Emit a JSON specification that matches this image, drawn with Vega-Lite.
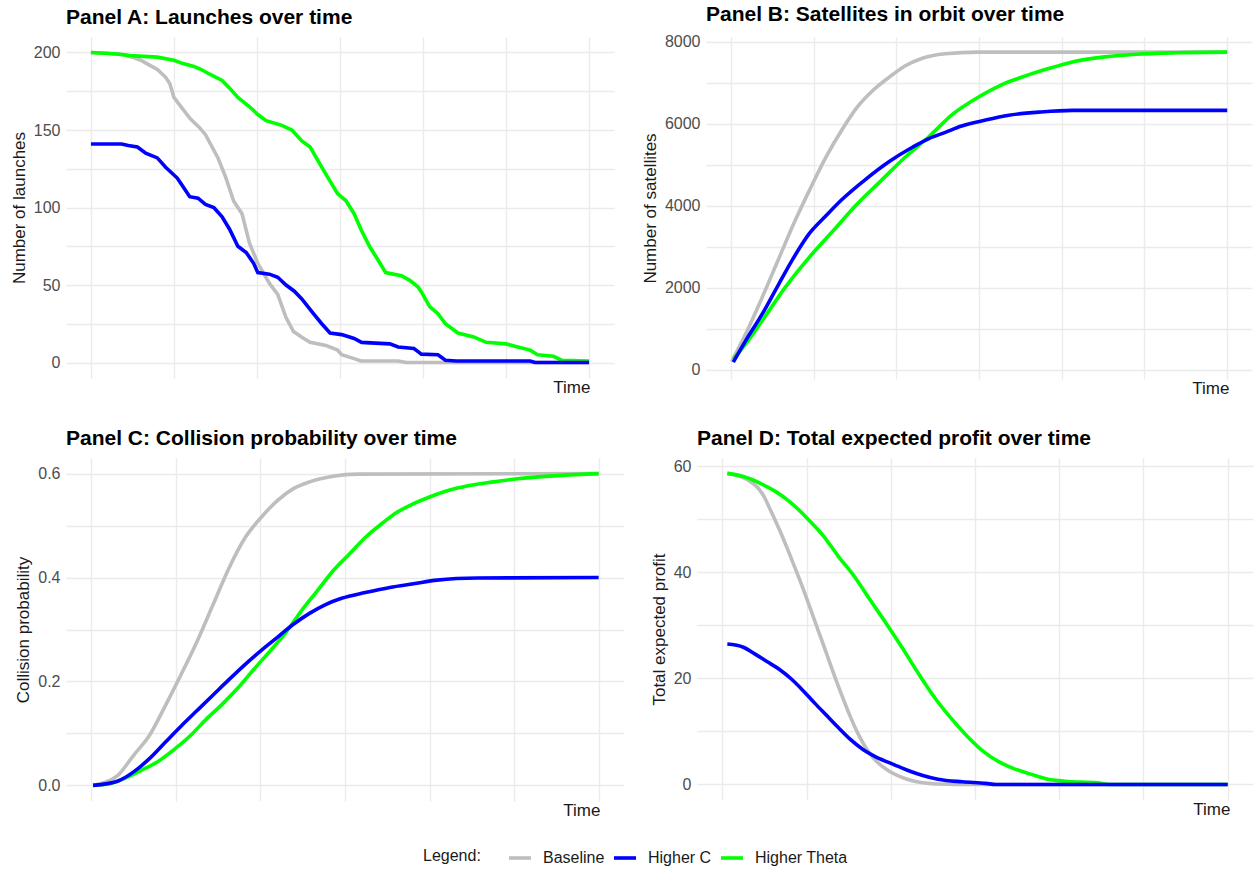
{
  "$schema": "https://vega.github.io/schema/vega-lite/v6.json",
  "background": "white",
  "padding": {"left": 10, "top": 3, "right": 1, "bottom": 2},
  "config": {
    "font": "Liberation Sans",
    "view": {"stroke": null},
    "axis": {"domain": false, "ticks": false, "gridColor": "#EBEBEB", "gridWidth": 1.4, "labelColor": "#4D4D4D", "labelFontSize": 16, "titleFontSize": 17, "titleFontWeight": "normal", "titleColor": "#1A1A1A", "labelPadding": 6, "titlePadding": 5},
    "title": {"fontSize": 21, "anchor": "start", "frame": "group", "color": "#000000", "fontWeight": "bold", "offset": 9},
    "line": {"strokeWidth": 3.6, "strokeCap": "butt"}
  },
  "datasets": {
    "launches": [
      {"time": 0, "scenario": "Baseline", "value": 200},
      {"time": 2, "scenario": "Baseline", "value": 199.5},
      {"time": 4, "scenario": "Baseline", "value": 198.5},
      {"time": 5, "scenario": "Baseline", "value": 197},
      {"time": 6, "scenario": "Baseline", "value": 195},
      {"time": 7, "scenario": "Baseline", "value": 192},
      {"time": 8, "scenario": "Baseline", "value": 189},
      {"time": 9, "scenario": "Baseline", "value": 184},
      {"time": 9.5, "scenario": "Baseline", "value": 180},
      {"time": 10, "scenario": "Baseline", "value": 171},
      {"time": 11, "scenario": "Baseline", "value": 164},
      {"time": 12, "scenario": "Baseline", "value": 157},
      {"time": 13, "scenario": "Baseline", "value": 152},
      {"time": 13.8, "scenario": "Baseline", "value": 147},
      {"time": 14.5, "scenario": "Baseline", "value": 140},
      {"time": 15.3, "scenario": "Baseline", "value": 132},
      {"time": 16.2, "scenario": "Baseline", "value": 120},
      {"time": 17.2, "scenario": "Baseline", "value": 104},
      {"time": 18.2, "scenario": "Baseline", "value": 96},
      {"time": 19.1, "scenario": "Baseline", "value": 77},
      {"time": 20.1, "scenario": "Baseline", "value": 64},
      {"time": 21.5, "scenario": "Baseline", "value": 51},
      {"time": 22.5, "scenario": "Baseline", "value": 44},
      {"time": 23.5, "scenario": "Baseline", "value": 29},
      {"time": 24.4, "scenario": "Baseline", "value": 20},
      {"time": 25.5, "scenario": "Baseline", "value": 16},
      {"time": 26.4, "scenario": "Baseline", "value": 13},
      {"time": 28.3, "scenario": "Baseline", "value": 11},
      {"time": 29.7, "scenario": "Baseline", "value": 8},
      {"time": 30.2, "scenario": "Baseline", "value": 5},
      {"time": 31.7, "scenario": "Baseline", "value": 2.5},
      {"time": 32.5, "scenario": "Baseline", "value": 1},
      {"time": 37, "scenario": "Baseline", "value": 1},
      {"time": 38, "scenario": "Baseline", "value": 0},
      {"time": 60, "scenario": "Baseline", "value": 0},
      {"time": 0, "scenario": "Higher Theta", "value": 200},
      {"time": 3.2, "scenario": "Higher Theta", "value": 199},
      {"time": 4.7, "scenario": "Higher Theta", "value": 198},
      {"time": 8, "scenario": "Higher Theta", "value": 197},
      {"time": 10, "scenario": "Higher Theta", "value": 195},
      {"time": 11, "scenario": "Higher Theta", "value": 193},
      {"time": 12.4, "scenario": "Higher Theta", "value": 191},
      {"time": 13.3, "scenario": "Higher Theta", "value": 189},
      {"time": 14.3, "scenario": "Higher Theta", "value": 186},
      {"time": 15.8, "scenario": "Higher Theta", "value": 182},
      {"time": 16.7, "scenario": "Higher Theta", "value": 177},
      {"time": 17.7, "scenario": "Higher Theta", "value": 171},
      {"time": 19.1, "scenario": "Higher Theta", "value": 165},
      {"time": 20.1, "scenario": "Higher Theta", "value": 160},
      {"time": 21.1, "scenario": "Higher Theta", "value": 156},
      {"time": 23, "scenario": "Higher Theta", "value": 153},
      {"time": 24.2, "scenario": "Higher Theta", "value": 150},
      {"time": 25.4, "scenario": "Higher Theta", "value": 143},
      {"time": 26.4, "scenario": "Higher Theta", "value": 139},
      {"time": 27.8, "scenario": "Higher Theta", "value": 126},
      {"time": 28.8, "scenario": "Higher Theta", "value": 117},
      {"time": 29.7, "scenario": "Higher Theta", "value": 109},
      {"time": 30.7, "scenario": "Higher Theta", "value": 104.5},
      {"time": 31.7, "scenario": "Higher Theta", "value": 96},
      {"time": 32.6, "scenario": "Higher Theta", "value": 85},
      {"time": 33.6, "scenario": "Higher Theta", "value": 74.5},
      {"time": 34.6, "scenario": "Higher Theta", "value": 66},
      {"time": 35.5, "scenario": "Higher Theta", "value": 58},
      {"time": 37.4, "scenario": "Higher Theta", "value": 56},
      {"time": 38.4, "scenario": "Higher Theta", "value": 53},
      {"time": 39.4, "scenario": "Higher Theta", "value": 48.7},
      {"time": 39.8, "scenario": "Higher Theta", "value": 45.5},
      {"time": 40.8, "scenario": "Higher Theta", "value": 36},
      {"time": 41.8, "scenario": "Higher Theta", "value": 31.5},
      {"time": 42.7, "scenario": "Higher Theta", "value": 25},
      {"time": 44.2, "scenario": "Higher Theta", "value": 19},
      {"time": 46.1, "scenario": "Higher Theta", "value": 16.5},
      {"time": 47.6, "scenario": "Higher Theta", "value": 13},
      {"time": 50, "scenario": "Higher Theta", "value": 12},
      {"time": 51.4, "scenario": "Higher Theta", "value": 10},
      {"time": 52.9, "scenario": "Higher Theta", "value": 8},
      {"time": 53.8, "scenario": "Higher Theta", "value": 5},
      {"time": 55.7, "scenario": "Higher Theta", "value": 4},
      {"time": 56.7, "scenario": "Higher Theta", "value": 1.5},
      {"time": 60, "scenario": "Higher Theta", "value": 1},
      {"time": 0, "scenario": "Higher C", "value": 141},
      {"time": 3.7, "scenario": "Higher C", "value": 141},
      {"time": 4.5, "scenario": "Higher C", "value": 140},
      {"time": 5.6, "scenario": "Higher C", "value": 139},
      {"time": 6.6, "scenario": "Higher C", "value": 135},
      {"time": 8, "scenario": "Higher C", "value": 132},
      {"time": 9, "scenario": "Higher C", "value": 126},
      {"time": 10.4, "scenario": "Higher C", "value": 119},
      {"time": 10.9, "scenario": "Higher C", "value": 115},
      {"time": 11.9, "scenario": "Higher C", "value": 107},
      {"time": 12.9, "scenario": "Higher C", "value": 106},
      {"time": 13.8, "scenario": "Higher C", "value": 102},
      {"time": 14.8, "scenario": "Higher C", "value": 100},
      {"time": 15.8, "scenario": "Higher C", "value": 94},
      {"time": 16.7, "scenario": "Higher C", "value": 86},
      {"time": 17.7, "scenario": "Higher C", "value": 75},
      {"time": 18.7, "scenario": "Higher C", "value": 71},
      {"time": 19.6, "scenario": "Higher C", "value": 64},
      {"time": 20.1, "scenario": "Higher C", "value": 58},
      {"time": 21.5, "scenario": "Higher C", "value": 57},
      {"time": 22.5, "scenario": "Higher C", "value": 55},
      {"time": 23.5, "scenario": "Higher C", "value": 50},
      {"time": 24.5, "scenario": "Higher C", "value": 46},
      {"time": 25.4, "scenario": "Higher C", "value": 41},
      {"time": 26.8, "scenario": "Higher C", "value": 31.5},
      {"time": 27.8, "scenario": "Higher C", "value": 25},
      {"time": 28.8, "scenario": "Higher C", "value": 19},
      {"time": 30.2, "scenario": "Higher C", "value": 18},
      {"time": 31.7, "scenario": "Higher C", "value": 15.5},
      {"time": 32.6, "scenario": "Higher C", "value": 13},
      {"time": 36, "scenario": "Higher C", "value": 12},
      {"time": 37, "scenario": "Higher C", "value": 10},
      {"time": 38.9, "scenario": "Higher C", "value": 9},
      {"time": 39.4, "scenario": "Higher C", "value": 7},
      {"time": 39.8, "scenario": "Higher C", "value": 5.4},
      {"time": 41.8, "scenario": "Higher C", "value": 5},
      {"time": 42.7, "scenario": "Higher C", "value": 1.5},
      {"time": 44, "scenario": "Higher C", "value": 1},
      {"time": 52.9, "scenario": "Higher C", "value": 1},
      {"time": 53.5, "scenario": "Higher C", "value": 0},
      {"time": 60, "scenario": "Higher C", "value": 0}
    ],
    "satellites": [
      {"time": 0.1, "scenario": "Baseline", "value": 200},
      {"time": 1.8, "scenario": "Baseline", "value": 880},
      {"time": 3.8, "scenario": "Baseline", "value": 1775},
      {"time": 5.7, "scenario": "Baseline", "value": 2670},
      {"time": 7.6, "scenario": "Baseline", "value": 3565},
      {"time": 9.5, "scenario": "Baseline", "value": 4380},
      {"time": 11.5, "scenario": "Baseline", "value": 5190},
      {"time": 13.4, "scenario": "Baseline", "value": 5845},
      {"time": 15.3, "scenario": "Baseline", "value": 6414},
      {"time": 17.2, "scenario": "Baseline", "value": 6821},
      {"time": 19.2, "scenario": "Baseline", "value": 7147},
      {"time": 21.1, "scenario": "Baseline", "value": 7420},
      {"time": 23, "scenario": "Baseline", "value": 7590},
      {"time": 25.9, "scenario": "Baseline", "value": 7710},
      {"time": 29.8, "scenario": "Baseline", "value": 7750},
      {"time": 60, "scenario": "Baseline", "value": 7750},
      {"time": 0.3, "scenario": "Higher Theta", "value": 270},
      {"time": 1.8, "scenario": "Higher Theta", "value": 635},
      {"time": 3.8, "scenario": "Higher Theta", "value": 1205},
      {"time": 6.6, "scenario": "Higher Theta", "value": 2019},
      {"time": 9.5, "scenario": "Higher Theta", "value": 2751},
      {"time": 12.4, "scenario": "Higher Theta", "value": 3400},
      {"time": 15.3, "scenario": "Higher Theta", "value": 4054},
      {"time": 18.2, "scenario": "Higher Theta", "value": 4624},
      {"time": 21.1, "scenario": "Higher Theta", "value": 5193},
      {"time": 24, "scenario": "Higher Theta", "value": 5700},
      {"time": 26.9, "scenario": "Higher Theta", "value": 6251},
      {"time": 29.8, "scenario": "Higher Theta", "value": 6640},
      {"time": 32.6, "scenario": "Higher Theta", "value": 6943},
      {"time": 35.5, "scenario": "Higher Theta", "value": 7163},
      {"time": 38.4, "scenario": "Higher Theta", "value": 7350},
      {"time": 41.3, "scenario": "Higher Theta", "value": 7513},
      {"time": 45.2, "scenario": "Higher Theta", "value": 7635},
      {"time": 49, "scenario": "Higher Theta", "value": 7700},
      {"time": 53.8, "scenario": "Higher Theta", "value": 7735},
      {"time": 60, "scenario": "Higher Theta", "value": 7750},
      {"time": 0.3, "scenario": "Higher C", "value": 190},
      {"time": 1.8, "scenario": "Higher C", "value": 716},
      {"time": 3.8, "scenario": "Higher C", "value": 1367},
      {"time": 5.7, "scenario": "Higher C", "value": 2060},
      {"time": 7.6, "scenario": "Higher C", "value": 2740},
      {"time": 9.5, "scenario": "Higher C", "value": 3330},
      {"time": 11.5, "scenario": "Higher C", "value": 3760},
      {"time": 13.4, "scenario": "Higher C", "value": 4150},
      {"time": 16.3, "scenario": "Higher C", "value": 4650},
      {"time": 19.2, "scenario": "Higher C", "value": 5090},
      {"time": 22, "scenario": "Higher C", "value": 5438},
      {"time": 24, "scenario": "Higher C", "value": 5650},
      {"time": 26, "scenario": "Higher C", "value": 5800},
      {"time": 27.8, "scenario": "Higher C", "value": 5942},
      {"time": 30.7, "scenario": "Higher C", "value": 6089},
      {"time": 33.6, "scenario": "Higher C", "value": 6211},
      {"time": 37.5, "scenario": "Higher C", "value": 6292},
      {"time": 41.3, "scenario": "Higher C", "value": 6330},
      {"time": 60, "scenario": "Higher C", "value": 6330}
    ],
    "collision": [
      {"time": 0.2, "scenario": "Baseline", "value": 0},
      {"time": 3.1, "scenario": "Baseline", "value": 0.019},
      {"time": 5, "scenario": "Baseline", "value": 0.058},
      {"time": 6.9, "scenario": "Baseline", "value": 0.097},
      {"time": 8.8, "scenario": "Baseline", "value": 0.155},
      {"time": 10.6, "scenario": "Baseline", "value": 0.213},
      {"time": 12.5, "scenario": "Baseline", "value": 0.277},
      {"time": 14.4, "scenario": "Baseline", "value": 0.348},
      {"time": 16.3, "scenario": "Baseline", "value": 0.419},
      {"time": 18.2, "scenario": "Baseline", "value": 0.477},
      {"time": 20.1, "scenario": "Baseline", "value": 0.516},
      {"time": 22, "scenario": "Baseline", "value": 0.548},
      {"time": 23.9, "scenario": "Baseline", "value": 0.571},
      {"time": 25.8, "scenario": "Baseline", "value": 0.584},
      {"time": 28.6, "scenario": "Baseline", "value": 0.595},
      {"time": 31.5, "scenario": "Baseline", "value": 0.599},
      {"time": 60, "scenario": "Baseline", "value": 0.6},
      {"time": 0.2, "scenario": "Higher Theta", "value": 0},
      {"time": 2.1, "scenario": "Higher Theta", "value": 0.003},
      {"time": 4, "scenario": "Higher Theta", "value": 0.014},
      {"time": 5.9, "scenario": "Higher Theta", "value": 0.029},
      {"time": 7.8, "scenario": "Higher Theta", "value": 0.045},
      {"time": 9.7, "scenario": "Higher Theta", "value": 0.068},
      {"time": 11.6, "scenario": "Higher Theta", "value": 0.094},
      {"time": 13.5, "scenario": "Higher Theta", "value": 0.126},
      {"time": 15.4, "scenario": "Higher Theta", "value": 0.155},
      {"time": 17.3, "scenario": "Higher Theta", "value": 0.187},
      {"time": 19.2, "scenario": "Higher Theta", "value": 0.223},
      {"time": 21.1, "scenario": "Higher Theta", "value": 0.258},
      {"time": 23, "scenario": "Higher Theta", "value": 0.294},
      {"time": 24.8, "scenario": "Higher Theta", "value": 0.335},
      {"time": 26.7, "scenario": "Higher Theta", "value": 0.374},
      {"time": 28.6, "scenario": "Higher Theta", "value": 0.413},
      {"time": 30.5, "scenario": "Higher Theta", "value": 0.445},
      {"time": 32.4, "scenario": "Higher Theta", "value": 0.477},
      {"time": 34.3, "scenario": "Higher Theta", "value": 0.503},
      {"time": 36.2, "scenario": "Higher Theta", "value": 0.526},
      {"time": 38.1, "scenario": "Higher Theta", "value": 0.542},
      {"time": 40, "scenario": "Higher Theta", "value": 0.555},
      {"time": 41.9, "scenario": "Higher Theta", "value": 0.566},
      {"time": 44.7, "scenario": "Higher Theta", "value": 0.577},
      {"time": 47.6, "scenario": "Higher Theta", "value": 0.584},
      {"time": 50.4, "scenario": "Higher Theta", "value": 0.59},
      {"time": 55.1, "scenario": "Higher Theta", "value": 0.596},
      {"time": 60, "scenario": "Higher Theta", "value": 0.6},
      {"time": 0.2, "scenario": "Higher C", "value": 0},
      {"time": 3.1, "scenario": "Higher C", "value": 0.008},
      {"time": 5, "scenario": "Higher C", "value": 0.026},
      {"time": 6.9, "scenario": "Higher C", "value": 0.052},
      {"time": 8.8, "scenario": "Higher C", "value": 0.084},
      {"time": 10.6, "scenario": "Higher C", "value": 0.114},
      {"time": 12.5, "scenario": "Higher C", "value": 0.144},
      {"time": 14.4, "scenario": "Higher C", "value": 0.174},
      {"time": 16.3, "scenario": "Higher C", "value": 0.204},
      {"time": 18.2, "scenario": "Higher C", "value": 0.233},
      {"time": 20.1, "scenario": "Higher C", "value": 0.26},
      {"time": 22, "scenario": "Higher C", "value": 0.285},
      {"time": 23.9, "scenario": "Higher C", "value": 0.31},
      {"time": 25.8, "scenario": "Higher C", "value": 0.331},
      {"time": 27.7, "scenario": "Higher C", "value": 0.348},
      {"time": 29.6, "scenario": "Higher C", "value": 0.36},
      {"time": 32.4, "scenario": "Higher C", "value": 0.371},
      {"time": 35.3, "scenario": "Higher C", "value": 0.381},
      {"time": 38.1, "scenario": "Higher C", "value": 0.388},
      {"time": 40.9, "scenario": "Higher C", "value": 0.395},
      {"time": 45.7, "scenario": "Higher C", "value": 0.399},
      {"time": 60, "scenario": "Higher C", "value": 0.4}
    ],
    "profit": [
      {"time": 0.6, "scenario": "Baseline", "value": 58.7},
      {"time": 3, "scenario": "Baseline", "value": 57.5},
      {"time": 4.9, "scenario": "Baseline", "value": 54.5},
      {"time": 5.8, "scenario": "Baseline", "value": 51.5},
      {"time": 6.8, "scenario": "Baseline", "value": 48},
      {"time": 7.7, "scenario": "Baseline", "value": 44.6},
      {"time": 8.6, "scenario": "Baseline", "value": 41},
      {"time": 9.6, "scenario": "Baseline", "value": 36.9},
      {"time": 10.5, "scenario": "Baseline", "value": 33},
      {"time": 11.4, "scenario": "Baseline", "value": 29},
      {"time": 12.4, "scenario": "Baseline", "value": 24.6},
      {"time": 13.3, "scenario": "Baseline", "value": 20.6},
      {"time": 14.3, "scenario": "Baseline", "value": 16.4},
      {"time": 15.2, "scenario": "Baseline", "value": 12.8},
      {"time": 16.2, "scenario": "Baseline", "value": 9.3},
      {"time": 17.1, "scenario": "Baseline", "value": 6.8},
      {"time": 18, "scenario": "Baseline", "value": 4.9},
      {"time": 19, "scenario": "Baseline", "value": 3.4},
      {"time": 20.9, "scenario": "Baseline", "value": 1.6},
      {"time": 22.8, "scenario": "Baseline", "value": 0.6},
      {"time": 25.6, "scenario": "Baseline", "value": 0.1},
      {"time": 30, "scenario": "Baseline", "value": 0},
      {"time": 60, "scenario": "Baseline", "value": 0},
      {"time": 0.6, "scenario": "Higher Theta", "value": 58.7},
      {"time": 2.5, "scenario": "Higher Theta", "value": 58.1},
      {"time": 4.4, "scenario": "Higher Theta", "value": 56.9},
      {"time": 6.3, "scenario": "Higher Theta", "value": 55.3},
      {"time": 8.2, "scenario": "Higher Theta", "value": 53.1},
      {"time": 10.1, "scenario": "Higher Theta", "value": 50.2},
      {"time": 11.9, "scenario": "Higher Theta", "value": 47.1},
      {"time": 13.8, "scenario": "Higher Theta", "value": 43},
      {"time": 15.7, "scenario": "Higher Theta", "value": 39.2},
      {"time": 17.6, "scenario": "Higher Theta", "value": 34.7},
      {"time": 19.5, "scenario": "Higher Theta", "value": 30.3},
      {"time": 21.4, "scenario": "Higher Theta", "value": 25.7},
      {"time": 23.3, "scenario": "Higher Theta", "value": 20.9},
      {"time": 25.2, "scenario": "Higher Theta", "value": 16.4},
      {"time": 27.1, "scenario": "Higher Theta", "value": 12.6},
      {"time": 28.9, "scenario": "Higher Theta", "value": 9.4},
      {"time": 30.8, "scenario": "Higher Theta", "value": 6.5},
      {"time": 32.7, "scenario": "Higher Theta", "value": 4.4},
      {"time": 34.6, "scenario": "Higher Theta", "value": 3},
      {"time": 36.5, "scenario": "Higher Theta", "value": 2},
      {"time": 38.4, "scenario": "Higher Theta", "value": 1.1},
      {"time": 40.7, "scenario": "Higher Theta", "value": 0.6},
      {"time": 44.5, "scenario": "Higher Theta", "value": 0.3},
      {"time": 46, "scenario": "Higher Theta", "value": 0},
      {"time": 60, "scenario": "Higher Theta", "value": 0},
      {"time": 0.6, "scenario": "Higher C", "value": 26.5},
      {"time": 2.5, "scenario": "Higher C", "value": 25.9},
      {"time": 3.9, "scenario": "Higher C", "value": 24.6},
      {"time": 5.3, "scenario": "Higher C", "value": 23.2},
      {"time": 6.8, "scenario": "Higher C", "value": 21.7},
      {"time": 8.2, "scenario": "Higher C", "value": 19.9},
      {"time": 9.6, "scenario": "Higher C", "value": 17.7},
      {"time": 11, "scenario": "Higher C", "value": 15.3},
      {"time": 12.4, "scenario": "Higher C", "value": 13},
      {"time": 13.8, "scenario": "Higher C", "value": 10.7},
      {"time": 15.2, "scenario": "Higher C", "value": 8.5},
      {"time": 16.7, "scenario": "Higher C", "value": 6.6},
      {"time": 18.1, "scenario": "Higher C", "value": 5.3},
      {"time": 19.5, "scenario": "Higher C", "value": 4.3},
      {"time": 20.9, "scenario": "Higher C", "value": 3.4},
      {"time": 22.3, "scenario": "Higher C", "value": 2.5},
      {"time": 23.8, "scenario": "Higher C", "value": 1.7},
      {"time": 25.6, "scenario": "Higher C", "value": 1},
      {"time": 28.5, "scenario": "Higher C", "value": 0.5},
      {"time": 31.3, "scenario": "Higher C", "value": 0.2},
      {"time": 32.5, "scenario": "Higher C", "value": 0},
      {"time": 60, "scenario": "Higher C", "value": 0}
    ]
  },
  "spacing": 32,
  "vconcat": [
    {
      "spacing": 27,
      "hconcat": [
        {
          "title": "Panel A: Launches over time",
          "width": 548, "height": 341,
          "data": {"name": "launches"},
          "mark": {"type": "line", "interpolate": "linear"},
          "encoding": {
            "x": {"field": "time", "type": "quantitative", "scale": {"domain": [-3, 63], "nice": false, "zero": false}, "axis": {"title": "Time", "labels": false, "values": [0, 10, 20, 30, 40, 50, 60], "titleAlign": "right", "titleX": 524, "titlePadding": 1}},
            "y": {"field": "value", "type": "quantitative", "scale": {"domain": [-10, 210], "nice": false}, "axis": {"title": "Number of launches", "values": [0, 25, 50, 75, 100, 125, 150, 175, 200], "labelExpr": "datum.value % 50 === 0 ? datum.label : ''"}},
            "color": {"field": "scenario", "type": "nominal", "scale": {"domain": ["Baseline", "Higher C", "Higher Theta"], "range": ["#BEBEBE", "#0000FF", "#00FF00"]},
              "legend": {"title": "Legend:", "orient": "none", "legendX": 357, "legendY": 808, "direction": "horizontal", "titleOrient": "left", "titleFontSize": 16, "titleFontWeight": "normal", "titleColor": "#1A1A1A", "titleBaseline": "middle", "titlePadding": 26, "symbolType": "stroke", "symbolStrokeWidth": 3.6, "symbolSize": 484, "labelFontSize": 16, "labelColor": "#1A1A1A", "columnPadding": 1, "labelOffset": 10}}
          }
        },
        {
          "title": "Panel B: Satellites in orbit over time",
          "width": 546, "height": 342,
          "data": {"name": "satellites"},
          "mark": {"type": "line", "interpolate": "monotone"},
          "encoding": {
            "x": {"field": "time", "type": "quantitative", "scale": {"domain": [-3, 63], "nice": false, "zero": false}, "axis": {"title": "Time", "labels": false, "values": [0, 10, 20, 30, 40, 50, 60], "titleAlign": "right", "titleX": 523, "titlePadding": 1}},
            "y": {"field": "value", "type": "quantitative", "scale": {"domain": [-220, 8120], "nice": false}, "axis": {"title": "Number of satellites", "values": [0, 1000, 2000, 3000, 4000, 5000, 6000, 7000, 8000], "labelExpr": "datum.value % 2000 === 0 ? datum.value + '' : ''"}},
            "color": {"field": "scenario", "type": "nominal"}
          }
        }
      ]
    },
    {
      "spacing": 26,
      "hconcat": [
        {
          "title": "Panel C: Collision probability over time",
          "width": 558, "height": 343,
          "data": {"name": "collision"},
          "mark": {"type": "line", "interpolate": "monotone"},
          "encoding": {
            "x": {"field": "time", "type": "quantitative", "scale": {"domain": [-3, 63], "nice": false, "zero": false}, "axis": {"title": "Time", "labels": false, "values": [0, 10, 20, 30, 40, 50, 60], "titleAlign": "right", "titleX": 534, "titlePadding": 1}},
            "y": {"field": "value", "type": "quantitative", "scale": {"domain": [-0.03, 0.63], "nice": false}, "axis": {"title": "Collision probability", "values": [0, 0.1, 0.2, 0.3, 0.4, 0.5, 0.6], "format": ".1f", "labelExpr": "(round(datum.value * 10) % 2 === 0) ? datum.label : ''"}},
            "color": {"field": "scenario", "type": "nominal"}
          }
        },
        {
          "title": "Panel D: Total expected profit over time",
          "width": 556, "height": 342,
          "data": {"name": "profit"},
          "mark": {"type": "line", "interpolate": "monotone"},
          "encoding": {
            "x": {"field": "time", "type": "quantitative", "scale": {"domain": [-3, 63], "nice": false, "zero": false}, "axis": {"title": "Time", "labels": false, "values": [0, 10, 20, 30, 40, 50, 60], "titleAlign": "right", "titleX": 533, "titlePadding": 1}},
            "y": {"field": "value", "type": "quantitative", "scale": {"domain": [-2.93, 61.6], "nice": false}, "axis": {"title": "Total expected profit", "values": [0, 10, 20, 30, 40, 50, 60], "labelExpr": "datum.value % 20 === 0 ? datum.label : ''"}},
            "color": {"field": "scenario", "type": "nominal"}
          }
        }
      ]
    }
  ]
}
